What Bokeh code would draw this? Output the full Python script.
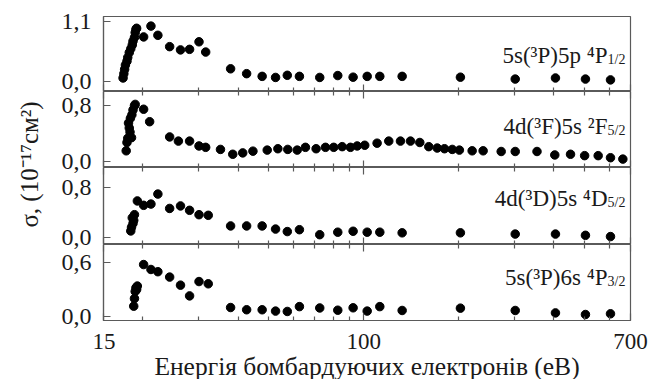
import math
from bokeh.plotting import figure
from bokeh.models import (Range1d, FixedTicker, LogAxis, CustomJSTickFormatter,
                          Label, ColumnDataSource)
from bokeh.core.properties import value
from bokeh.layouts import row, column
from bokeh.embed import file_html
from bokeh.resources import INLINE

FONT = "'Liberation Serif', 'Times New Roman', serif"
INK = "#1a1a1a"
FRAME = "#5a5a5a"

# ---------------- data ----------------
x_major_ticks = [15, 100, 700]
x_minor_ticks = [20, 30, 40, 50, 60, 70, 80, 90, 200, 300, 400, 500, 600]
x_label = "Енергія бомбардуючих електронів (еВ)"
y_label = "σ, (10⁻¹⁷см²)"

# panel 1: 5s(3P)5p 4P1/2
e1 = [17.3, 17.4, 17.5, 17.6, 17.8, 17.9, 18.1, 18.3, 18.5, 18.6, 18.8, 18.9, 19.0, 19.1,
      20.1, 21.2, 22.3, 24.3, 26.3, 28.1, 30.1, 31.6, 37.9, 42.6, 47.7, 52.6, 57.3, 62.6,
      72.6, 82.8, 92.6, 102.6, 112.5, 132.4, 202.5, 302, 405, 504, 605]
s1 = [0.06, 0.14, 0.22, 0.30, 0.37, 0.44, 0.53, 0.60, 0.67, 0.74, 0.81, 0.90, 0.96, 0.98,
      0.82, 1.02, 0.85, 0.64, 0.58, 0.59, 0.73, 0.54, 0.23, 0.14, 0.09, 0.07, 0.11, 0.09,
      0.07, 0.105, 0.075, 0.09, 0.09, 0.09, 0.075, 0.04, 0.06, 0.04, 0.025]

# panel 2: 4d(3F)5s 2F5/2
e2 = [17.7, 17.8, 17.9, 18.0, 18.1, 18.2, 18.4, 18.25, 18.45, 18.6, 18.8, 18.9,
      20.1, 21.0, 24.3, 25.9, 28.1, 30.1, 31.6, 35.2, 38.5, 41.4, 44.6, 49.5, 53.5,
      57.5, 61.6, 65.4, 70.7, 75.7, 80.4, 85.5, 90.8, 95.4, 100.8, 110.3, 120.1, 130.8,
      140.7, 150.6, 160.8, 171, 180.3, 190.8, 201, 220.6, 239, 272.6, 302, 354, 403,
      452, 501, 553, 605, 662]
s2 = [0.15, 0.27, 0.33, 0.55, 0.48, 0.42, 0.34, 0.62, 0.67, 0.74, 0.80, 0.82,
      0.75, 0.57, 0.35, 0.29, 0.29, 0.22, 0.20, 0.17, 0.10, 0.12, 0.145, 0.16, 0.18,
      0.17, 0.16, 0.20, 0.18, 0.20, 0.20, 0.21, 0.20, 0.22, 0.23, 0.26, 0.29, 0.29,
      0.29, 0.27, 0.21, 0.19, 0.18, 0.17, 0.16, 0.15, 0.15, 0.14, 0.14, 0.14, 0.09,
      0.10, 0.08, 0.08, 0.05, 0.03]

# panel 3: 4d(3D)5s 4D5/2
e3 = [18.3, 18.4, 18.6, 18.5, 18.8, 18.7, 19.2,
      20.1, 21.2, 22.3, 24.3, 26.3, 28.1, 30.1, 32.2, 37.9, 42.6, 47.7, 52.6, 57.3,
      62.6, 72.6, 82.8, 92.6, 102.6, 112.5, 132.4, 202.5, 302, 405, 504, 605]
s3 = [0.11, 0.17, 0.23, 0.32, 0.37, 0.28, 0.59,
      0.52, 0.54, 0.70, 0.47, 0.51, 0.44, 0.37, 0.36, 0.19, 0.19, 0.19, 0.14, 0.10,
      0.13, 0.05, 0.09, 0.105, 0.09, 0.09, 0.08, 0.08, 0.06, 0.06, 0.04, 0.02]

# panel 4: 5s(3P)6s 4P3/2
e4 = [18.7, 18.8, 18.9, 19.0, 19.1, 19.2,
      20.1, 21.2, 22.3, 24.3, 26.3, 28.1, 30.1, 32.2, 37.9, 42.6, 47.7, 52.6, 57.3,
      62.6, 72.6, 82.8, 92.6, 102.6, 112.5, 132.4, 202.5, 302, 405, 504, 605]
s4 = [0.115, 0.20, 0.28, 0.32, 0.30, 0.34,
      0.58, 0.525, 0.50, 0.44, 0.35, 0.23, 0.39, 0.365, 0.10, 0.075, 0.075, 0.06, 0.056,
      0.11, 0.095, 0.07, 0.097, 0.06, 0.11, 0.067, 0.093, 0.067, 0.04, 0.022, 0.03]

panel_main = ["5s(³P)5p ⁴P", "4d(³F)5s ²F", "4d(³D)5s ⁴D", "5s(³P)6s ⁴P"]
panel_sub = ["1/2", "5/2", "5/2", "3/2"]
panel_yticks = [[0.0, 1.1], [0.0, 0.8], [0.0, 0.8], [0.0, 0.6]]
panel_yrange = [(-0.19, 1.198), (-0.091, 1.006), (-0.107, 1.125), (-0.045, 0.804)]
panel_label_y = [0.476, 0.497, 0.624, 0.439]
panel_frame_h = [75, 76, 77, 76]

energies = [e1, e2, e3, e4]
sigmas = [s1, s2, s3, s4]

# ---------------- layout constants (pixels) ----------------
LEFT_W = 92       # strip holding the y title and the y tick labels
LEFT_B = 11       # panel border left of the frame (room for the "15" label)
FRAME_W = 527
RIGHT_B = 20
TOP_B = 16
BOT_B = 58
TOTAL_H = TOP_B + sum(panel_frame_h) + BOT_B


def style_x_axis(ax, show_labels):
    ax.ticker = FixedTicker(ticks=x_major_ticks, minor_ticks=x_minor_ticks)
    ax.major_tick_in = 7
    ax.major_tick_out = 0
    ax.minor_tick_in = 4
    ax.minor_tick_out = 0
    ax.major_tick_line_color = FRAME
    ax.minor_tick_line_color = FRAME
    ax.major_tick_line_width = 1.2
    ax.minor_tick_line_width = 1.2
    ax.axis_line_color = FRAME
    ax.axis_line_width = 1.2
    if show_labels:
        ax.formatter = CustomJSTickFormatter(code="return String(Math.round(tick));")
        ax.major_label_text_font = FONT
        ax.major_label_text_font_size = "23px"
        ax.major_label_text_color = INK
        ax.major_label_standoff = 13
    else:
        ax.formatter = CustomJSTickFormatter(code="return '';")
        ax.major_label_text_font_size = "0px"
        ax.major_label_standoff = 0


# left strip: y title + y tick labels (mapped through per-panel ranges)
left = figure(width=LEFT_W, height=TOTAL_H, x_range=Range1d(0, LEFT_W),
              y_range=Range1d(0, TOTAL_H),
              x_axis_location=None, y_axis_location=None, min_border=0,
              output_backend="svg", toolbar_location=None)
left.grid.visible = False
left.outline_line_color = None
left.add_layout(Label(x=29, y=TOTAL_H - 164, text=y_label, angle=math.pi / 2,
                      text_align="center", text_baseline="middle", text_font=FONT,
                      text_font_size="25px", text_color=INK))

extra = {}
top = TOP_B
for i, (lo, hi) in enumerate(panel_yrange):
    h = panel_frame_h[i]
    bottom = top + h
    k = (hi - lo) / h
    extra[f"p{i}"] = Range1d(lo + (bottom - TOTAL_H) * k, lo + bottom * k)
    top = bottom
left.extra_y_ranges = extra

for i, ticks in enumerate(panel_yticks):
    src = ColumnDataSource(dict(t=ticks, lab=[f"{t:.1f}".replace(".", ",") for t in ticks]))
    left.text(x=91, y="t", text="lab", source=src, y_range_name=f"p{i}",
              text_align="right", text_baseline="middle",
              text_font=value(FONT), text_font_size=value("24px"), text_color=INK)

panels = []
n = len(energies)
for i in range(n):
    last = i == n - 1
    top_b = TOP_B if i == 0 else 0
    bot_b = BOT_B if last else 0
    p = figure(x_axis_type="log", x_range=Range1d(15, 700),
               y_range=Range1d(*panel_yrange[i]),
               frame_width=FRAME_W, frame_height=panel_frame_h[i],
               min_border_left=LEFT_B, min_border_right=RIGHT_B,
               min_border_top=top_b, min_border_bottom=bot_b,
               output_backend="svg", toolbar_location=None)
    p.grid.visible = False
    p.outline_line_color = FRAME
    p.outline_line_width = 1.2
    p.background_fill_color = "white"
    p.border_fill_color = "white"

    style_x_axis(p.xaxis[0], last)
    if last:
        p.xaxis[0].axis_label = x_label
        p.xaxis[0].axis_label_text_font = FONT
        p.xaxis[0].axis_label_text_font_size = "25.5px"
        p.xaxis[0].axis_label_text_font_style = "normal"
        p.xaxis[0].axis_label_text_color = INK
        p.xaxis[0].axis_label_standoff = 0
    if i > 0:
        top_ax = LogAxis()
        style_x_axis(top_ax, False)
        p.add_layout(top_ax, "above")

    ya = p.yaxis[0]
    ya.ticker = FixedTicker(ticks=panel_yticks[i], minor_ticks=[])
    ya.formatter = CustomJSTickFormatter(code="return '';")
    ya.major_label_text_font_size = "0px"
    ya.major_label_standoff = 0
    ya.major_tick_in = 7
    ya.major_tick_out = 0
    ya.minor_tick_in = 0
    ya.minor_tick_out = 0
    ya.major_tick_line_color = FRAME
    ya.major_tick_line_width = 1.2
    ya.axis_line_color = FRAME
    ya.axis_line_width = 1.2

    src = ColumnDataSource(dict(e=energies[i], s=sigmas[i]))
    p.scatter("e", "s", source=src, size=8.5, color="black")

    p.add_layout(Label(x=700, y=panel_label_y[i], text=panel_main[i],
                       text_align="right", text_baseline="alphabetic",
                       x_offset=-23, text_font=FONT, text_font_size="23px",
                       text_color=INK))
    p.add_layout(Label(x=700, y=panel_label_y[i], text=panel_sub[i],
                       text_align="right", text_baseline="alphabetic",
                       x_offset=-5, y_offset=-4, text_font=FONT,
                       text_font_size="14px", text_color=INK))
    panels.append(p)

layout = row(left, column(*panels, spacing=0), spacing=0)
open("out.html", "w").write(file_html(layout, INLINE))
